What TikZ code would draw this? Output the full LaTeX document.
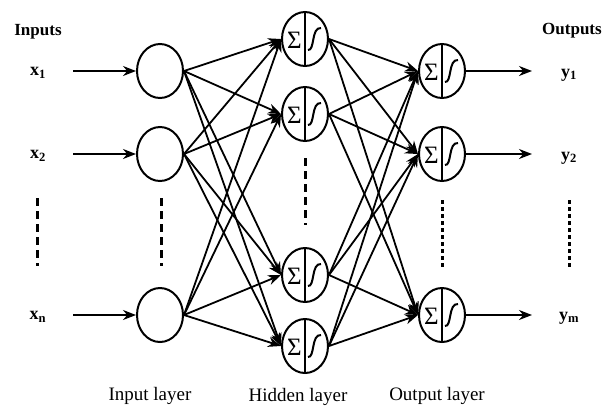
\documentclass[tikz,border=0pt]{standalone}
\usepackage{fontspec}
\setmainfont{Liberation Serif}
\usetikzlibrary{shapes.geometric,arrows.meta,calc}
\begin{document}
\begin{tikzpicture}[x=1pt,y=-1pt,
  neuron/.style={draw,line width=2pt,ellipse,minimum width=46pt,minimum height=54pt,inner sep=0pt},
  link/.style={line width=1.8pt,-{Stealth[length=13pt,width=10pt]}},
  vdash/.style={line width=3pt,dash pattern=on 8pt off 5pt},
  vdot/.style={line width=3pt,dash pattern=on 3.5pt off 3.5pt},
  lbl/.style={font=\fontsize{17}{17}\selectfont\bfseries},
  sym/.style={font=\fontsize{18}{18}\selectfont\bfseries},
  sigma/.style={font=\fontsize{25}{25}\selectfont,inner sep=0pt},
  layer/.style={font=\fontsize{19}{19}\selectfont}]
\useasboundingbox (0,0) rectangle (604,408);
% input layer
\node[neuron] (i1) at (160,71) {};
\node[neuron] (i2) at (160,154) {};
\node[neuron] (i3) at (160,315) {};
% hidden layer
\node[neuron] (h1) at (305,39) {};
\node[neuron] (h2) at (305,114) {};
\node[neuron] (h3) at (305,275) {};
\node[neuron] (h4) at (305,346) {};
% output layer
\node[neuron] (o1) at (442,71) {};
\node[neuron] (o2) at (442,154) {};
\node[neuron] (o3) at (442,315) {};
% sigma / sigmoid inside processing neurons
\foreach \n in {h1,h2,h3,h4,o1,o2,o3}{
  \draw[line width=2pt] (\n.north) -- (\n.south);
  \node[sigma] at ($(\n.center)+(-10.5,1.5)$) {Σ};
  \draw[line width=2pt] ($(\n.center)+(3,11)$) .. controls ($(\n.center)+(10,12)$) and ($(\n.center)+(6,-12)$) .. ($(\n.center)+(16,-11)$);
}
% labels
\node[lbl] (tin) at (38,32) {Inputs};
\node[lbl] (tout) at (572,31) {Outputs};
\node[sym] (x1) at (38,73) {x\textsubscript{1}};
\node[sym] (x2) at (38,156) {x\textsubscript{2}};
\node[sym] (x3) at (38,317) {x\textsubscript{n}};
\node[sym] (y1) at (569,75) {y\textsubscript{1}};
\node[sym] (y2) at (569,158) {y\textsubscript{2}};
\node[sym] (y3) at (569,318) {y\textsubscript{m}};
\coordinate (a1) at (73,71);
\coordinate (a2) at (73,154);
\coordinate (a3) at (73,315);
\coordinate (b1) at (532,71);
\coordinate (b2) at (532,154);
\coordinate (b3) at (532,315);
\draw[link] (a1) -- (i1.west);
\draw[link] (a2) -- (i2.west);
\draw[link] (a3) -- (i3.west);
\draw[link] (o1.east) -- (b1);
\draw[link] (o2.east) -- (b2);
\draw[link] (o3.east) -- (b3);
% connections
\foreach \i in {i1,i2,i3}{
  \foreach \h in {h1,h2,h3,h4}{
    \draw[link] (\i.east) -- (\h.west);
  }
}
\foreach \h in {h1,h2,h3,h4}{
  \foreach \o in {o1,o2,o3}{
    \draw[link] (\h.east) -- (\o.west);
  }
}
% ellipsis lines
\coordinate (d1a) at (37,198); \coordinate (d1b) at (37,266);
\coordinate (d2a) at (161,198); \coordinate (d2b) at (161,266);
\coordinate (d3a) at (305,158); \coordinate (d3b) at (305,225);
\coordinate (d4a) at (442,200); \coordinate (d4b) at (442,268);
\coordinate (d5a) at (569,200); \coordinate (d5b) at (569,268);
\draw[vdash] (d1a) -- (d1b);
\draw[vdash] (d2a) -- (d2b);
\draw[vdash] (d3a) -- (d3b);
\draw[vdot] (d4a) -- (d4b);
\draw[vdot] (d5a) -- (d5b);
% layer labels
\node[layer] (li) at (150,396) {Input layer};
\node[layer] (lh) at (298,397) {Hidden layer};
\node[layer] (lo) at (437,396) {Output layer};
\end{tikzpicture}
\end{document}
